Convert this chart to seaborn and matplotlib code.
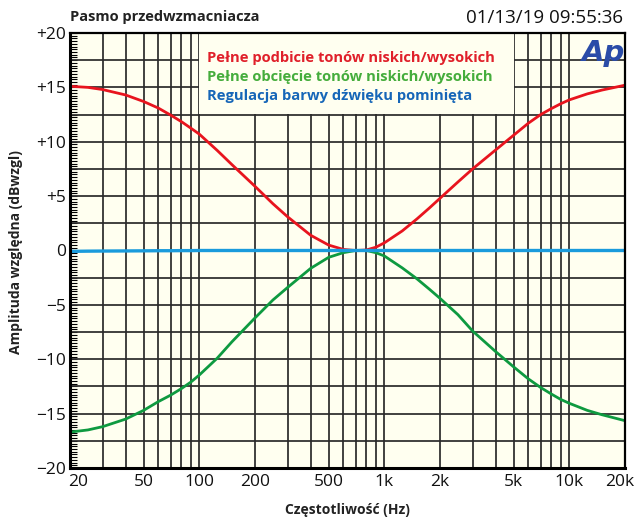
import numpy as np
import pandas as pd
import matplotlib
matplotlib.use("Agg")
import matplotlib.pyplot as plt
import matplotlib.transforms as mtransforms
from matplotlib.ticker import FixedLocator, MultipleLocator, NullFormatter
import seaborn as sns

# Dane (częstotliwość w Hz, amplituda w dB)
freq = [20, 25, 30, 40, 50, 60, 70, 80, 90, 100, 125, 150, 200, 250, 300, 400, 500, 600,
        700, 800, 900, 1000, 1250, 1500, 1750, 2000, 2500, 3000, 4000, 5000, 6000,
        7000, 8000, 9000, 10000, 12500, 15000, 20000]
boost = [15.1, 15.0, 14.8, 14.3, 13.7, 13.1, 12.45, 11.85, 11.25, 10.7, 9.2, 7.9, 5.9, 4.3, 3.1, 1.4, 0.5, 0.1,
         0.0, 0.05, 0.3, 0.7, 1.8, 2.9, 3.9, 4.8, 6.3, 7.5, 9.25, 10.6, 11.7,
         12.5, 13.05, 13.5, 13.85, 14.4, 14.75, 15.2]
cut = [-16.7, -16.5, -16.2, -15.5, -14.7, -13.9, -13.3, -12.7, -12.1, -11.45, -9.9, -8.4, -6.2, -4.55, -3.4, -1.64, -0.63, -0.2,
       0.0, 0.0, -0.2, -0.5, -1.6, -2.6, -3.55, -4.4, -5.9, -7.4, -9.3, -10.7, -11.8,
       -12.6, -13.2, -13.7, -14.05, -14.7, -15.1, -15.65]
flat = [-0.08, -0.06, -0.05, -0.04, -0.03, -0.02, -0.02, -0.01, -0.01, 0.0, 0.0, 0.0, 0.0, 0.0, 0.0, 0.0, 0.0, 0.0,
        0.0, 0.0, 0.0, 0.0, 0.0, 0.0, 0.0, 0.0, 0.0, 0.0, 0.0, 0.0, 0.0,
        0.0, 0.0, 0.0, 0.0, 0.0, 0.0, 0.0]

x_ticks = [20, 50, 100, 200, 500, 1000, 2000, 5000, 10000, 20000]
x_labels = ['20', '50', '100', '200', '500', '1k', '2k', '5k', '10k', '20k']
y_ticks = [-20, -15, -10, -5, 0, 5, 10, 15, 20]
y_labels = ['\u221220', '\u221215', '\u221210', '\u22125', '0', '+5', '+10', '+15', '+20']

legend_texts = ['Pełne podbicie tonów niskich/wysokich',
                'Pełne obcięcie tonów niskich/wysokich',
                'Regulacja barwy dźwięku pominięta']

COLORS = {
    'boost': '#E8141E',
    'cut': '#0E9A40',
    'flat': '#1A9BDC',
    'boost_txt': '#E0202A',
    'cut_txt': '#45AD3C',
    'flat_txt': '#1666B8',
    'bg': '#FFFFF0',
    'grid': '#2A2A2A',
    'logo': '#2A4CA8',
}

sns.set_theme(style="white")
plt.rcParams['font.family'] = ['Open Sans', 'DejaVu Sans']
plt.rcParams['axes.unicode_minus'] = False

df = pd.DataFrame({'freq': freq, 'boost': boost, 'cut': cut, 'flat': flat})

fig = plt.figure(figsize=(6.37, 5.25), dpi=100)
ax = fig.add_axes([70 / 637, 57 / 525, 555 / 637, 435 / 525])
ax.set_facecolor(COLORS['bg'])

ax.set_xscale('log')
ax.set_xlim(20, 20000)
ax.set_ylim(-20, 20)

# siatka: linie co 2.5 dB i na każdej podziałce logarytmicznej
grid_x = [m * 10 ** e for e in range(1, 5) for m in range(1, 10)]
grid_x = [g for g in grid_x if 20 < g < 20000]
for g in grid_x:
    ax.axvline(g, color=COLORS['grid'], lw=1.25, zorder=1)
for g in np.arange(-17.5, 20, 2.5):
    ax.axhline(g, color=COLORS['grid'], lw=1.25, zorder=1)

# pole legendy zasłania siatkę
ax.add_patch(plt.Rectangle((0.2324, 0.8138), 0.5676, 0.19, transform=ax.transAxes,
                           facecolor=COLORS['bg'], edgecolor='none', zorder=2))

line_kw = dict(ax=ax, sort=False, solid_joinstyle='round', solid_capstyle='butt')
sns.lineplot(data=df, x='freq', y='flat', color=COLORS['flat'], lw=2.4, zorder=4, **line_kw)
sns.lineplot(data=df, x='freq', y='boost', color=COLORS['boost'], lw=2.0, zorder=3, **line_kw)
sns.lineplot(data=df, x='freq', y='cut', color=COLORS['cut'], lw=2.0, zorder=3, **line_kw)
ax.set_xlabel('')
ax.set_ylabel('')

ax.xaxis.set_major_locator(FixedLocator(x_ticks))
ax.xaxis.set_minor_locator(FixedLocator([]))
ax.xaxis.set_minor_formatter(NullFormatter())
ax.set_xticks(x_ticks)
ax.set_xticklabels(x_labels, fontsize=12.5, color='#111111')
ax.set_yticks(y_ticks)
ax.set_yticklabels(y_labels, fontsize=12.5, color='#111111')
ax.yaxis.set_minor_locator(MultipleLocator(0.25))
ax.tick_params(axis='y', which='minor', direction='in', length=5, width=0.8, color='black', left=True)
ax.tick_params(axis='y', which='major', direction='in', length=5, width=0.8, pad=3, left=True)
ax.tick_params(axis='x', which='major', length=0, pad=4)

xl = ax.get_xticklabels()
xl[0].set_ha('left')
xl[0].set_transform(xl[0].get_transform() + mtransforms.ScaledTranslation(-2 / 100, 0, fig.dpi_scale_trans))
xl[-1].set_transform(xl[-1].get_transform() + mtransforms.ScaledTranslation(-5 / 100, 0, fig.dpi_scale_trans))

for side in ['left', 'bottom']:
    ax.spines[side].set_linewidth(2.2)
    ax.spines[side].set_color('black')
for side in ['top', 'right']:
    ax.spines[side].set_linewidth(1.6)
    ax.spines[side].set_color('black')
for s in ax.spines.values():
    s.set_zorder(6)

# etykiety osi
fig.text(347 / 637, 1 - 510 / 525, 'Częstotliwość (Hz)', fontsize=10, fontweight='bold',
         ha='center', va='center', color='#222222')
fig.text(16 / 637, 1 - 252 / 525, 'Amplituda względna (dBwzgl)', fontsize=10, fontweight='bold',
         ha='center', va='center', rotation=90, color='#222222')

# teksty legendy
for txt, col, yy in zip(legend_texts, ['boost_txt', 'cut_txt', 'flat_txt'], [0.9425, 0.899, 0.855]):
    ax.text(0.247, yy, txt, transform=ax.transAxes, color=COLORS[col], fontsize=10.6,
            fontweight='bold', va='center', ha='left', zorder=5)

ax.text(0.962, 0.955, 'Ap', transform=ax.transAxes, color=COLORS['logo'], fontsize=21,
        fontweight='heavy', style='italic', va='center', ha='center', zorder=5,
        family=['DejaVu Sans'])

fig.text(70 / 637, 1 - 17 / 525, 'Pasmo przedwzmacniacza', fontsize=10.5, fontweight='bold',
         ha='left', va='center', color='#222222')
fig.text(623 / 637, 1 - 18 / 525, '01/13/19 09:55:36', fontsize=13.5,
         ha='right', va='center', color='#111111')

fig.savefig('out.png', dpi=100, facecolor='white')
